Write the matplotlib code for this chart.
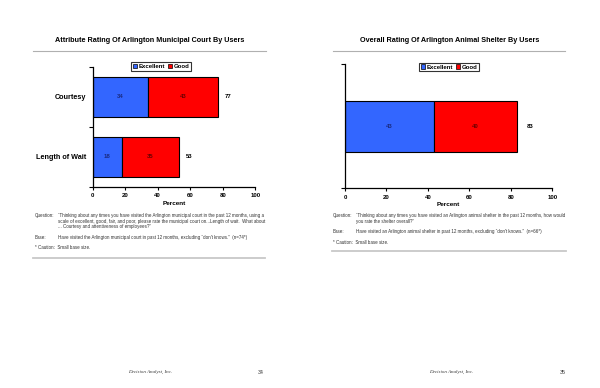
import matplotlib
matplotlib.use("Agg")
import matplotlib.pyplot as plt
from matplotlib.patches import Patch
from matplotlib.lines import Line2D

plt.rcParams['font.family'] = ['Liberation Sans', 'DejaVu Sans']

# ---------------- data ----------------
left_title = "Attribute Rating Of Arlington Municipal Court By Users"
left_categories = ["Courtesy", "Length of Wait"]
left_excellent = [34, 18]
left_good = [43, 35]
left_totals = [77, 53]

right_title = "Overall Rating Of Arlington Animal Shelter By Users"
right_categories = [""]
right_excellent = [43]
right_good = [40]
right_totals = [83]

series_names = ["Excellent", "Good"]
x_ticks = [0, 20, 40, 60, 80, 100]

left_notes_question = ["\u201cThinking about any times you have visited the Arlington municipal court in the past 12 months, using a",
                       "scale of excellent, good, fair, and poor, please rate the municipal court on...Length of wait.  What about",
                       "... Courtesy and attentiveness of employees?\u201d"]
left_notes_base = "Have visited the Arlington municipal court in past 12 months, excluding \u201cdon't knows.\u201d  (n=74*)"
right_notes_question = ["\u201cThinking about any times you have visited an Arlington animal shelter in the past 12 months, how would",
                        "you rate the shelter overall?\u201d"]
right_notes_base = "Have visited an Arlington animal shelter in past 12 months, excluding \u201cdon't knows.\u201d  (n=66*)"
caution = "* Caution:  Small base size."
footer = "Decision Analyst, Inc."
page_numbers = ["34", "35"]

BLUE = "#3366FF"
RED = "#FF0000"

W, H = 600, 388
fig = plt.figure(figsize=(6, 3.88), dpi=100)


def px(x, y):
    return x / W, 1 - y / H


def add_ax(x0, y_top, x1, y_bot):
    return fig.add_axes([x0 / W, 1 - y_bot / H, (x1 - x0) / W, (y_bot - y_top) / H])


def draw_bars(ax, cats, exc, good, totals, bar_h):
    n = len(cats)
    ys = list(range(n))
    ax.barh(ys, exc, height=bar_h, color=BLUE, edgecolor="black", linewidth=0.8)
    ax.barh(ys, good, left=exc, height=bar_h, color=RED, edgecolor="black", linewidth=0.8)
    for y, e, g, t in zip(ys, exc, good, totals):
        ax.text(e / 2, y, f"{e}", ha="center", va="center", fontsize=4.3,
                fontweight="bold", color="#1a2a80")
        ax.text(e + g / 2, y, f"{g}", ha="center", va="center", fontsize=4.3,
                fontweight="bold", color="#6a0000")
        ax.text(e + g + 4.5, y, f"{t}", ha="left", va="center", fontsize=4.3,
                fontweight="bold", color="black")
    ax.set_xlim(0, 100)
    ax.set_ylim(n - 0.5, -0.5)
    ax.set_xticks(x_ticks)
    ax.set_xticklabels([str(v) for v in x_ticks], fontsize=4.3, fontweight="bold")
    ax.set_yticks(ys)
    ax.set_yticklabels(cats, fontsize=5.2, fontweight="bold")
    ax.tick_params(axis="y", length=0, pad=4.5)
    ax.set_yticks([i - 0.5 for i in range(n + 1)], minor=True)
    ax.tick_params(axis="y", which="minor", length=3, width=0.8, direction="out")
    ax.tick_params(axis="x", length=2.5, width=0.8, pad=2)
    for s in ["top", "right"]:
        ax.spines[s].set_visible(False)
    for s in ["left", "bottom"]:
        ax.spines[s].set_linewidth(0.9)
    ax.set_xlabel("Percent", fontsize=4.6, fontweight="bold", labelpad=2)


axL = add_ax(92.7, 66.7, 255.3, 186.7)
draw_bars(axL, left_categories, left_excellent, left_good, left_totals, 0.667)

axR = add_ax(345, 64.3, 552.3, 188.3)
draw_bars(axR, right_categories, right_excellent, right_good, right_totals, 0.41)

# legends
handles = [Patch(facecolor=BLUE, edgecolor="black", linewidth=0.5),
           Patch(facecolor=RED, edgecolor="black", linewidth=0.5)]
for cx, cy in [(161, 66.3), (449, 67)]:
    leg = fig.legend(handles, series_names, loc="center", bbox_to_anchor=px(cx, cy), ncol=2,
                     prop={"weight": "bold", "size": 4.3},
                     frameon=True, fancybox=False, edgecolor="black", borderpad=0.3,
                     handlelength=0.8, handleheight=0.8, handletextpad=0.2, columnspacing=0.4,
                     borderaxespad=0)
    leg.get_frame().set_linewidth(0.8)

# titles and rules
for cx, t, x0, x1 in [(150, left_title, 33, 265.7), (449.7, right_title, 333, 565)]:
    fig.text(*px(cx, 40.7), t, ha="center", va="center", fontsize=5.2, fontweight="bold")
    fig.add_artist(Line2D([x0 / W, x1 / W], [1 - 51 / H, 1 - 51 / H], color="#b0b0b0", lw=0.8))

NFS = 3.25
# left notes
fig.text(*px(35, 216), "Question:", fontsize=NFS, va="center", color="#333333")
for i, line in enumerate(left_notes_question):
    fig.text(*px(57.7, 216 + i * 5.3), line, fontsize=NFS, va="center", color="#333333")
fig.text(*px(35, 237.3), "Base:", fontsize=NFS, va="center", color="#333333")
fig.text(*px(57.7, 237.3), left_notes_base, fontsize=NFS, va="center", color="#333333")
fig.text(*px(35, 247.5), caution, fontsize=NFS, va="center", color="#333333")
fig.add_artist(Line2D([33 / W, 265 / W], [1 - 257.5 / H, 1 - 257.5 / H], color="#c8c8c8", lw=1.3))

# right notes
fig.text(*px(333, 216), "Question:", fontsize=NFS, va="center", color="#333333")
for i, line in enumerate(right_notes_question):
    fig.text(*px(356, 216 + i * 5.3), line, fontsize=NFS, va="center", color="#333333")
fig.text(*px(333, 231.7), "Base:", fontsize=NFS, va="center", color="#333333")
fig.text(*px(356, 231.7), right_notes_base, fontsize=NFS, va="center", color="#333333")
fig.text(*px(333, 242.3), caution, fontsize=NFS, va="center", color="#333333")
fig.add_artist(Line2D([332 / W, 565.7 / W], [1 - 251 / H, 1 - 251 / H], color="#c8c8c8", lw=1.3))

# footers
for cx, pn, pnx in [(150, page_numbers[0], 261), (451, page_numbers[1], 563)]:
    fig.text(*px(cx, 372), footer, ha="center", va="center", fontsize=3.6,
             family=["Liberation Serif", "DejaVu Serif"], style="italic", color="#333333")
    fig.text(*px(pnx, 372), pn, ha="center", va="center", fontsize=3.8, color="#333333")

fig.savefig("out.png", dpi=100)
